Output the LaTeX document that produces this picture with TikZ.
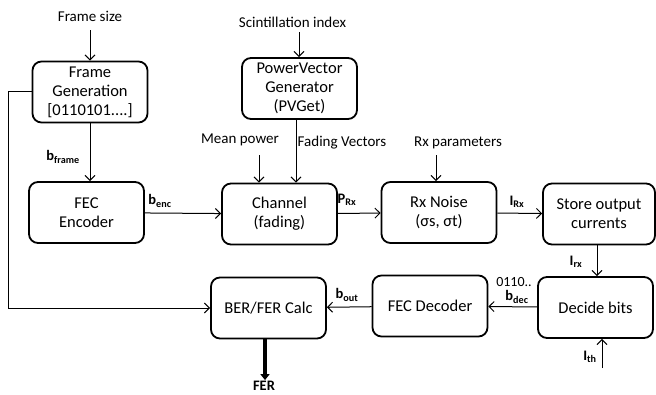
\documentclass[tikz,border=0pt]{standalone}
\usepackage{fontspec}
\setmainfont{Carlito}
\usetikzlibrary{arrows.meta}
\begin{document}
\begin{tikzpicture}[x=1pt,y=-1pt]
	\tikzstyle{block}=[draw=black,line width=1.8pt,rounded corners=9pt,minimum width=115pt,minimum height=61pt,align=center,inner sep=1pt,font=\fontsize{16.5}{19}\selectfont]
	\tikzstyle{edge}=[draw,line width=1pt,-{Straight Barb[length=5pt,width=10pt]}]
	\tikzstyle{input}=[font=\fontsize{15}{17}\selectfont,inner sep=1pt]
	\tikzstyle{signal}=[font=\bfseries\fontsize{14.5}{16}\selectfont,inner sep=1pt]
	\useasboundingbox (0,0) rectangle (656,394);
	\begin{scope}
		% blocks
		\node [block] (fg) at (90,92) {Frame\\Generation\\{[}0110101....{]}};
		\node [block] (enc) at (86.5,212.5) {FEC\\Encoder};
		\node [block] (pv) at (299.5,88.5) {PowerVector\\Generator\\(PVGet)};
		\node [block] (ch) at (279.5,214) {Channel\\(fading)};
		\node [block] (rxn) at (439,212.5) {Rx Noise\\(σs, σt)};
		\node [block,minimum width=112pt] (store) at (599,214) {Store output\\currents};
		\node [block] (dec) at (595.5,307.5) {Decide bits};
		\node [block] (fecd) at (430,306) {FEC Decoder};
		\node [block] (ber) at (268.5,308) {BER/FER Calc};
		% inputs
		\node [input] (fs) at (90,16) {Frame size};
		\node [input] (si) at (292.5,22) {Scintillation index};
		\node [input] (mp) at (240,140) {Mean power};
		\node [input] (fv) at (342,143) {Fading Vectors};
		\node [input] (rxp) at (458,143) {Rx parameters};
		\node [signal] (fer) at (264,386) {FER};
		\coordinate (fsin) at (90,30);
		\coordinate (siin) at (299,32);
		\coordinate (mpin) at (259,155);
		\coordinate (rxin) at (436,155);
		\coordinate (thin) at (602,368);
		\coordinate (loop) at (8,91);
		% signals
		\node [signal] (bframe) at (63,157) {b\textsubscript{frame}};
		\node [signal] (benc) at (160,201) {b\textsubscript{enc}};
		\node [signal] (prx) at (347,200) {P\textsubscript{Rx}};
		\node [signal] (irx) at (517,202) {I\textsubscript{Rx}};
		\node [signal] (ilrx) at (576,262) {I\textsubscript{rx}};
		\node [input,font=\fontsize{14}{16}\selectfont] (bits) at (514,282) {0110..};
		\node [signal] (bdec) at (517,297) {b\textsubscript{dec}};
		\node [signal] (bout) at (347,295) {b\textsubscript{out}};
		\node [signal] (ith) at (590,357) {I\textsubscript{th}};
		% connectors
		\path[edge] (fsin) -- (fg.north);
		\path[edge] (siin) -- (pv.north -| siin);
		\path[edge] (fg) -- (enc.north -| fg);
		\path[edge] (enc) -- (ch);
		\path[edge] (mpin) -- (ch.north -| mpin);
		\path[edge] (pv.south -| 296,0) -- (ch.north -| 296,0);
		\path[edge] (ch) -- (rxn);
		\path[edge] (rxin) -- (rxn.north -| rxin);
		\path[edge] (rxn) -- (store);
		\path[edge] (store.south -| 597,0) -- (dec.north -| 597,0);
		\path[edge] (thin) -- (dec.south -| thin);
		\path[edge] (dec) -- (fecd);
		\path[edge] (fecd) -- (ber);
		\path[edge] (fg.west |- loop) -- (loop) |- (ber.west);
		\draw[line width=3.5pt,-{Triangle[length=6pt,width=9pt]}] (ber.south -| 265,0) -- (fer.north -| 265,0);
	\end{scope}
\end{tikzpicture}
\end{document}
